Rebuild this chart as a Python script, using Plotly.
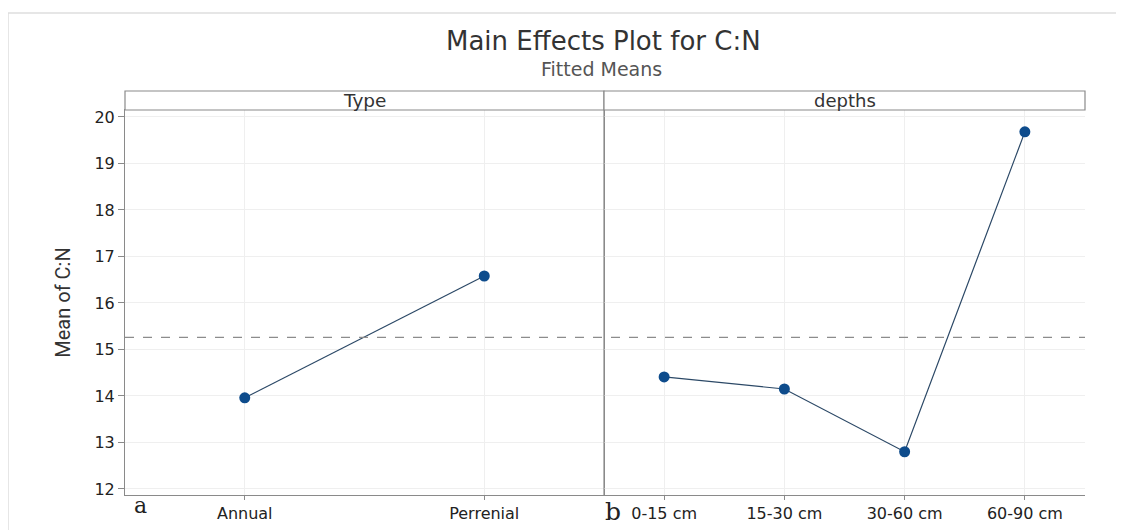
import plotly.graph_objects as go

type_levels = ["Annual", "Perrenial"]
type_means = [13.96, 16.58]
depth_levels = ["0-15 cm", "15-30 cm", "30-60 cm", "60-90 cm"]
depth_means = [14.41, 14.15, 12.80, 19.68]
overall_mean = 15.26
y_ticks = [12, 13, 14, 15, 16, 17, 18, 19, 20]

# page is offset by the browser's 8px body margin
OFF = 8
PAGE_W, PAGE_H = 1124, 530
W, H = PAGE_W - OFF, PAGE_H - OFF
# plot area in page pixels
PL, PR, PT, PB = 125, 1085, 110, 495
L, R, T, B = PL - OFF, PAGE_W - PR, PT - OFF, PAGE_H - PB
pw, ph = PR - PL, PB - PT

def px(x):
    return (x - PL) / pw

def py(y):
    return (PB - y) / ph

split = px(604)
FONT = "DejaVu Sans, Verdana, sans-serif"
tick_font = dict(family=FONT, size=16, color="#222222")
xtick_font = dict(family=FONT, size=16, color="#222222")
line_col = "#2b4866"
marker_col = "#0e4c8c"
grid_col = "#efefef"
frame_col = "#8a8a8a"

fig = go.Figure()
fig.add_trace(go.Scatter(x=[0, 1], y=type_means, mode="lines+markers",
                         line=dict(color=line_col, width=1.2),
                         marker=dict(color=marker_col, size=11),
                         xaxis="x", yaxis="y", showlegend=False))
fig.add_trace(go.Scatter(x=list(range(len(depth_levels))), y=depth_means, mode="lines+markers",
                         line=dict(color=line_col, width=1.2),
                         marker=dict(color=marker_col, size=11),
                         xaxis="x2", yaxis="y", showlegend=False))

yr = [11.87, 20.15]
fig.update_layout(
    width=W, height=H,
    margin=dict(l=L, r=R, t=T, b=B, pad=0, autoexpand=False),
    paper_bgcolor="white", plot_bgcolor="white",
    xaxis=dict(domain=[0, split], range=[-0.5, 1.5], tickmode="array",
               tickvals=[0, 1], ticktext=type_levels, showgrid=True, gridcolor=grid_col,
               ticks="outside", ticklen=4, tickcolor=frame_col, zeroline=False, automargin=False,
               showline=True, linecolor=frame_col, mirror=True, tickfont=xtick_font),
    xaxis2=dict(domain=[split, 1], range=[-0.5, 3.5], tickmode="array",
                tickvals=list(range(len(depth_levels))), ticktext=depth_levels,
                showgrid=True, gridcolor=grid_col, anchor="y", automargin=False,
                ticks="outside", ticklen=4, tickcolor=frame_col, zeroline=False,
                showline=True, linecolor=frame_col, mirror=True, tickfont=xtick_font),
    yaxis=dict(range=yr, tickmode="array", tickvals=y_ticks, showgrid=True, gridcolor=grid_col,
               ticks="outside", ticklen=6, tickcolor=frame_col, zeroline=False, automargin=False,
               showline=True, linecolor=frame_col, mirror=True, tickfont=tick_font,
               title=dict(text="Mean of C:N", standoff=18,
                          font=dict(family="Liberation Sans Narrow, Arial Narrow, Roboto, sans-serif",
                                    size=20, color="#333333"))),
)

shapes = []
shapes.append(dict(type="line", xref="paper", yref="y", x0=0, x1=1, y0=overall_mean, y1=overall_mean,
                   line=dict(color="#8c8c8c", width=1.2, dash="dash")))
strip_top = py(91)
for x0, x1 in [(0, split), (split, 1)]:
    shapes.append(dict(type="rect", xref="paper", yref="paper", x0=x0, x1=x1, y0=1, y1=strip_top,
                       line=dict(color=frame_col, width=1.2), fillcolor="white"))
shapes.append(dict(type="line", xref="paper", yref="paper", x0=split, x1=split, y0=0, y1=1,
                   line=dict(color=frame_col, width=1.2)))
shapes.append(dict(type="rect", xref="paper", yref="paper", x0=px(8), x1=px(1120), y0=py(560), y1=py(13),
                   line=dict(color="#dedede", width=1.5), fillcolor="rgba(0,0,0,0)", layer="below"))
fig.update_layout(shapes=shapes)

ann = []
ann.append(dict(text="Main Effects Plot for C:N", xref="paper", yref="paper", x=px(603), y=py(41),
                showarrow=False, xanchor="center", yanchor="middle",
                font=dict(family=FONT, size=26, color="#333333")))
ann.append(dict(text="Fitted Means", xref="paper", yref="paper", x=px(601), y=py(69),
                showarrow=False, xanchor="center", yanchor="middle",
                font=dict(family=FONT, size=19, color="#555555")))
ann.append(dict(text="Type", xref="paper", yref="paper", x=split / 2, y=(1 + strip_top) / 2,
                showarrow=False, xanchor="center", yanchor="middle",
                font=dict(family=FONT, size=18.5, color="#333333")))
ann.append(dict(text="depths", xref="paper", yref="paper", x=(split + 1) / 2, y=(1 + strip_top) / 2,
                showarrow=False, xanchor="center", yanchor="middle",
                font=dict(family=FONT, size=18, color="#333333")))
ann.append(dict(text="a", xref="paper", yref="paper", x=px(140), y=py(506),
                showarrow=False, xanchor="center", yanchor="middle",
                font=dict(family="DejaVu Serif, Liberation Serif, serif", size=22, color="#222222")))
ann.append(dict(text="b", xref="paper", yref="paper", x=px(613), y=py(511),
                showarrow=False, xanchor="center", yanchor="middle",
                font=dict(family="DejaVu Serif, Liberation Serif, serif", size=25, color="#222222")))
fig.update_layout(annotations=ann)

fig.write_html("out.html")
